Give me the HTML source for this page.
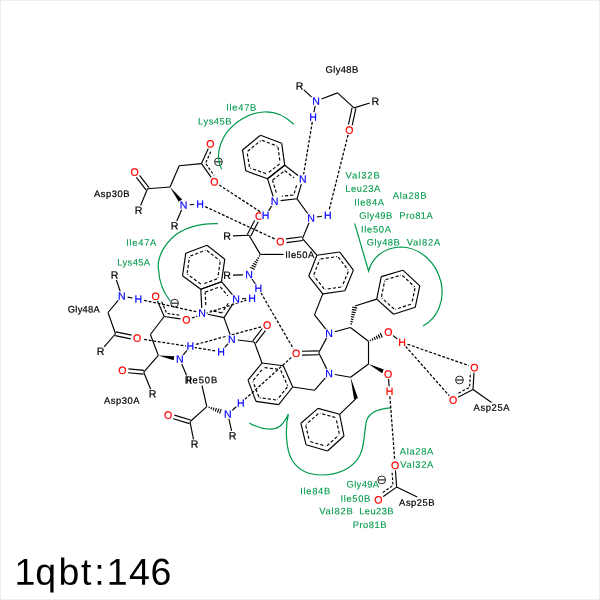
<!DOCTYPE html>
<html><head><meta charset="utf-8"><style>
html,body{margin:0;padding:0;background:#fff;}
.wrap{width:600px;height:600px;box-sizing:border-box;border:1px solid #eeeeee;position:relative;overflow:hidden;background:#fff;}
svg{position:absolute;left:0;top:0;will-change:transform;}
text{font-family:"Liberation Sans", sans-serif;}
</style></head><body><div class="wrap">
<svg width="600" height="600" viewBox="0 0 600 600" style="left:-1px;top:-1px">
<circle cx="218.4" cy="161.8" r="3.9" fill="none" stroke="#222" stroke-width="1.0"/>
<line x1="215.1" y1="161.8" x2="221.70000000000002" y2="161.8" stroke="#222" stroke-width="1.2"/>
<circle cx="174.6" cy="303.2" r="3.9" fill="none" stroke="#222" stroke-width="1.0"/>
<line x1="171.29999999999998" y1="303.2" x2="177.9" y2="303.2" stroke="#222" stroke-width="1.2"/>
<circle cx="459.5" cy="380" r="3.9" fill="none" stroke="#222" stroke-width="1.0"/>
<line x1="456.2" y1="380" x2="462.8" y2="380" stroke="#222" stroke-width="1.2"/>
<circle cx="381.7" cy="479.9" r="3.9" fill="none" stroke="#222" stroke-width="1.0"/>
<line x1="378.4" y1="479.9" x2="385.0" y2="479.9" stroke="#222" stroke-width="1.2"/>
<path d="M293.9,124.3 C283,114 272,111.5 264.2,112 C245,113 228,127 222,140.8 C218,150 217,160 221.6,169.3" fill="none" stroke="#00994c" stroke-width="1.2"/>
<path d="M218,223.6 C200,223 182,228 172,238 C160,250 157,262 158.6,270 C159,282 163,292 170.5,301.5" fill="none" stroke="#00994c" stroke-width="1.2"/>
<path d="M354.6,223.4 L368.6,271 C372,258 383,248 400,247 C420,247 436,262 441,282 C445,300 438,318 423,326" fill="none" stroke="#00994c" stroke-width="1.2"/>
<path d="M249.3,423 C257,427.5 266,430.2 275,428.6 C281,427.2 286,420 288.4,414 C285.5,425 285,448 292,460 C298,470 308,475 322,475 C340,475 354,467 360,455 C365,445 364,431 366.5,421 C369,411 381,408.6 390.7,407.8" fill="none" stroke="#00994c" stroke-width="1.2"/>
<line x1="303.55" y1="89.69" x2="311.95" y2="97.31" stroke="#000000" stroke-width="1.15"/>
<line x1="315.10" y1="105.94" x2="314.00" y2="112.06" stroke="#000000" stroke-width="1.15"/>
<line x1="321.47" y1="98.94" x2="337.50" y2="92.90" stroke="#000000" stroke-width="1.15"/>
<line x1="337.50" y1="92.90" x2="354.00" y2="107.90" stroke="#000000" stroke-width="1.15"/>
<line x1="354.00" y1="107.90" x2="369.77" y2="103.04" stroke="#000000" stroke-width="1.15"/>
<line x1="352.14" y1="107.50" x2="348.49" y2="124.68" stroke="#000000" stroke-width="1.15"/>
<line x1="355.86" y1="108.30" x2="352.21" y2="125.47" stroke="#000000" stroke-width="1.15"/>
<line x1="250.68" y1="236.18" x2="258.28" y2="221.66" stroke="#000000" stroke-width="1.15"/>
<line x1="247.32" y1="234.42" x2="254.92" y2="219.90" stroke="#000000" stroke-width="1.15"/>
<line x1="233.00" y1="235.81" x2="249.00" y2="235.30" stroke="#000000" stroke-width="1.15"/>
<line x1="249.00" y1="235.30" x2="260.30" y2="254.40" stroke="#000000" stroke-width="1.15"/>
<line x1="260.30" y1="254.40" x2="283.50" y2="254.40" stroke="#000000" stroke-width="1.15"/>
<line x1="250.35" y1="267.22" x2="254.64" y2="269.61" stroke="#000000" stroke-width="1.15"/>
<line x1="251.77" y1="265.27" x2="255.56" y2="267.37" stroke="#000000" stroke-width="1.15"/>
<line x1="253.20" y1="263.31" x2="256.47" y2="265.13" stroke="#000000" stroke-width="1.15"/>
<line x1="254.62" y1="261.36" x2="257.38" y2="262.89" stroke="#000000" stroke-width="1.15"/>
<line x1="256.04" y1="259.40" x2="258.29" y2="260.65" stroke="#000000" stroke-width="1.15"/>
<line x1="257.47" y1="257.45" x2="259.20" y2="258.41" stroke="#000000" stroke-width="1.15"/>
<line x1="258.89" y1="255.49" x2="260.11" y2="256.18" stroke="#000000" stroke-width="1.15"/>
<line x1="233.00" y1="275.14" x2="243.00" y2="274.86" stroke="#000000" stroke-width="1.15"/>
<line x1="251.97" y1="279.04" x2="255.33" y2="283.96" stroke="#000000" stroke-width="1.15"/>
<line x1="149.00" y1="187.54" x2="139.35" y2="175.04" stroke="#000000" stroke-width="1.15"/>
<line x1="146.00" y1="189.86" x2="136.34" y2="177.37" stroke="#000000" stroke-width="1.15"/>
<line x1="147.50" y1="188.70" x2="140.63" y2="205.57" stroke="#000000" stroke-width="1.15"/>
<line x1="147.50" y1="188.70" x2="170.00" y2="187.00" stroke="#000000" stroke-width="1.15"/>
<line x1="170.00" y1="187.00" x2="179.20" y2="165.80" stroke="#000000" stroke-width="1.15"/>
<line x1="179.20" y1="165.80" x2="201.50" y2="163.60" stroke="#000000" stroke-width="1.15"/>
<line x1="201.50" y1="163.60" x2="208.29" y2="148.58" stroke="#000000" stroke-width="1.15"/>
<line x1="205.84" y1="162.49" x2="211.35" y2="150.29" stroke="#000000" stroke-width="1.15" stroke-dasharray="2.8,1.7"/>
<line x1="201.50" y1="163.60" x2="211.36" y2="177.59" stroke="#000000" stroke-width="1.15"/>
<line x1="205.97" y1="163.87" x2="214.05" y2="175.33" stroke="#000000" stroke-width="1.15" stroke-dasharray="2.8,1.7"/>
<polygon points="170.00,187.00 178.86,202.02 182.12,199.54" fill="#000000"/>
<line x1="189.69" y1="204.71" x2="194.01" y2="204.49" stroke="#000000" stroke-width="1.15"/>
<line x1="181.66" y1="209.70" x2="176.74" y2="221.10" stroke="#000000" stroke-width="1.15"/>
<line x1="116.32" y1="279.81" x2="120.18" y2="291.29" stroke="#000000" stroke-width="1.15"/>
<line x1="127.67" y1="297.13" x2="132.43" y2="297.97" stroke="#000000" stroke-width="1.15"/>
<line x1="118.36" y1="300.19" x2="108.00" y2="312.50" stroke="#000000" stroke-width="1.15"/>
<line x1="108.00" y1="312.50" x2="115.50" y2="333.75" stroke="#000000" stroke-width="1.15"/>
<line x1="115.11" y1="335.61" x2="130.79" y2="338.86" stroke="#000000" stroke-width="1.15"/>
<line x1="115.89" y1="331.89" x2="131.56" y2="335.13" stroke="#000000" stroke-width="1.15"/>
<line x1="115.50" y1="333.75" x2="103.99" y2="347.18" stroke="#000000" stroke-width="1.15"/>
<line x1="164.20" y1="316.50" x2="157.53" y2="301.01" stroke="#000000" stroke-width="1.15"/>
<line x1="166.31" y1="312.54" x2="160.86" y2="299.90" stroke="#000000" stroke-width="1.15" stroke-dasharray="2.8,1.7"/>
<line x1="164.20" y1="316.50" x2="180.39" y2="318.92" stroke="#000000" stroke-width="1.15"/>
<line x1="167.49" y1="313.45" x2="180.61" y2="315.41" stroke="#000000" stroke-width="1.15" stroke-dasharray="2.8,1.7"/>
<line x1="164.20" y1="316.50" x2="150.40" y2="334.50" stroke="#000000" stroke-width="1.15"/>
<line x1="150.40" y1="334.50" x2="158.30" y2="355.40" stroke="#000000" stroke-width="1.15"/>
<polygon points="158.30,355.40 173.57,360.18 174.29,356.14" fill="#000000"/>
<line x1="183.14" y1="355.04" x2="187.06" y2="350.16" stroke="#000000" stroke-width="1.15"/>
<line x1="158.30" y1="355.40" x2="143.75" y2="372.20" stroke="#000000" stroke-width="1.15"/>
<line x1="143.92" y1="370.31" x2="128.43" y2="368.94" stroke="#000000" stroke-width="1.15"/>
<line x1="143.58" y1="374.09" x2="128.10" y2="372.72" stroke="#000000" stroke-width="1.15"/>
<line x1="143.75" y1="372.20" x2="150.67" y2="389.17" stroke="#000000" stroke-width="1.15"/>
<line x1="181.78" y1="363.92" x2="186.62" y2="375.48" stroke="#000000" stroke-width="1.15"/>
<line x1="202.00" y1="385.50" x2="206.80" y2="406.60" stroke="#000000" stroke-width="1.15"/>
<line x1="219.58" y1="413.68" x2="221.20" y2="409.09" stroke="#000000" stroke-width="1.15"/>
<line x1="217.42" y1="412.58" x2="218.83" y2="408.60" stroke="#000000" stroke-width="1.15"/>
<line x1="215.27" y1="411.48" x2="216.45" y2="408.11" stroke="#000000" stroke-width="1.15"/>
<line x1="213.11" y1="410.38" x2="214.08" y2="407.61" stroke="#000000" stroke-width="1.15"/>
<line x1="210.95" y1="409.28" x2="211.71" y2="407.12" stroke="#000000" stroke-width="1.15"/>
<line x1="208.80" y1="408.18" x2="209.34" y2="406.62" stroke="#000000" stroke-width="1.15"/>
<line x1="232.01" y1="410.44" x2="236.59" y2="406.56" stroke="#000000" stroke-width="1.15"/>
<line x1="228.90" y1="418.92" x2="231.60" y2="430.98" stroke="#000000" stroke-width="1.15"/>
<line x1="206.80" y1="406.60" x2="190.00" y2="421.80" stroke="#000000" stroke-width="1.15"/>
<line x1="190.55" y1="419.98" x2="174.39" y2="415.09" stroke="#000000" stroke-width="1.15"/>
<line x1="189.45" y1="423.62" x2="173.29" y2="418.73" stroke="#000000" stroke-width="1.15"/>
<line x1="190.00" y1="421.80" x2="193.51" y2="439.27" stroke="#000000" stroke-width="1.15"/>
<line x1="473.00" y1="389.50" x2="473.97" y2="372.49" stroke="#000000" stroke-width="1.15"/>
<line x1="469.66" y1="386.51" x2="470.45" y2="372.60" stroke="#000000" stroke-width="1.15" stroke-dasharray="2.8,1.7"/>
<line x1="473.00" y1="389.50" x2="458.08" y2="397.33" stroke="#000000" stroke-width="1.15"/>
<line x1="468.89" y1="387.70" x2="456.72" y2="394.10" stroke="#000000" stroke-width="1.15" stroke-dasharray="2.8,1.7"/>
<line x1="473.00" y1="389.50" x2="491.50" y2="402.50" stroke="#000000" stroke-width="1.15"/>
<line x1="396.60" y1="487.10" x2="395.44" y2="470.29" stroke="#000000" stroke-width="1.15"/>
<line x1="392.92" y1="484.55" x2="391.97" y2="470.83" stroke="#000000" stroke-width="1.15" stroke-dasharray="2.8,1.7"/>
<line x1="396.60" y1="487.10" x2="382.99" y2="496.68" stroke="#000000" stroke-width="1.15"/>
<line x1="392.30" y1="485.85" x2="381.22" y2="493.64" stroke="#000000" stroke-width="1.15" stroke-dasharray="2.8,1.7"/>
<line x1="396.60" y1="487.10" x2="417.25" y2="497.00" stroke="#000000" stroke-width="1.15"/>
<line x1="312.28" y1="121.95" x2="303.62" y2="174.25" stroke="#000000" stroke-width="1.25" stroke-dasharray="2.9,1.7"/>
<line x1="348.07" y1="134.89" x2="329.03" y2="210.41" stroke="#000000" stroke-width="1.25" stroke-dasharray="2.9,1.7"/>
<line x1="219.13" y1="184.98" x2="260.97" y2="212.22" stroke="#000000" stroke-width="1.25" stroke-dasharray="2.9,1.7"/>
<line x1="205.24" y1="206.64" x2="275.16" y2="239.16" stroke="#000000" stroke-width="1.25" stroke-dasharray="2.9,1.7"/>
<line x1="260.91" y1="292.80" x2="293.39" y2="348.80" stroke="#000000" stroke-width="1.25" stroke-dasharray="2.9,1.7"/>
<line x1="144.10" y1="300.28" x2="196.20" y2="311.72" stroke="#000000" stroke-width="1.25" stroke-dasharray="2.9,1.7"/>
<line x1="191.88" y1="317.97" x2="246.42" y2="300.13" stroke="#000000" stroke-width="1.25" stroke-dasharray="2.9,1.7"/>
<line x1="196.11" y1="344.45" x2="261.49" y2="326.75" stroke="#000000" stroke-width="1.25" stroke-dasharray="2.9,1.7"/>
<line x1="215.11" y1="350.80" x2="142.89" y2="339.15" stroke="#000000" stroke-width="1.25" stroke-dasharray="2.9,1.7"/>
<line x1="244.88" y1="399.33" x2="291.92" y2="356.97" stroke="#000000" stroke-width="1.25" stroke-dasharray="2.9,1.7"/>
<line x1="407.53" y1="344.23" x2="468.72" y2="365.57" stroke="#000000" stroke-width="1.25" stroke-dasharray="2.9,1.7"/>
<line x1="405.56" y1="346.33" x2="449.44" y2="395.97" stroke="#000000" stroke-width="1.25" stroke-dasharray="2.9,1.7"/>
<line x1="389.88" y1="396.29" x2="394.72" y2="460.31" stroke="#000000" stroke-width="1.25" stroke-dasharray="2.9,1.7"/>
<rect x="295.10" y="81.80" width="8.8" height="8.4" fill="#fff"/>
<text transform="translate(299.50,89.65) rotate(0.05)" font-size="10.6" fill="#000000" stroke="#000000" stroke-width="0.2" text-anchor="middle">R</text>
<rect x="311.40" y="96.80" width="9.2" height="8.4" fill="#fff"/>
<text transform="translate(316.00,104.65) rotate(0.05)" font-size="10.6" fill="#0000ff" stroke="#0000ff" stroke-width="0.2" text-anchor="middle">N</text>
<rect x="308.70" y="112.80" width="8.8" height="8.4" fill="#fff"/>
<text transform="translate(313.10,120.65) rotate(0.05)" font-size="10.6" fill="#0000ff" stroke="#0000ff" stroke-width="0.2" text-anchor="middle">H</text>
<rect x="371.00" y="97.10" width="8.8" height="8.4" fill="#fff"/>
<text transform="translate(375.40,104.95) rotate(0.05)" font-size="10.6" fill="#000000" stroke="#000000" stroke-width="0.2" text-anchor="middle">R</text>
<rect x="344.50" y="125.80" width="9.6" height="8.4" fill="#fff"/>
<text transform="translate(349.30,133.65) rotate(0.05)" font-size="10.6" fill="#ff0000" stroke="#ff0000" stroke-width="0.2" text-anchor="middle">O</text>
<rect x="254.20" y="212.00" width="9.6" height="8.4" fill="#fff"/>
<text transform="translate(259.00,219.85) rotate(0.05)" font-size="10.6" fill="#ff0000" stroke="#ff0000" stroke-width="0.2" text-anchor="middle">O</text>
<rect x="222.60" y="231.80" width="8.8" height="8.4" fill="#fff"/>
<text transform="translate(227.00,239.65) rotate(0.05)" font-size="10.6" fill="#000000" stroke="#000000" stroke-width="0.2" text-anchor="middle">R</text>
<rect x="244.40" y="270.50" width="9.2" height="8.4" fill="#fff"/>
<text transform="translate(249.00,278.35) rotate(0.05)" font-size="10.6" fill="#0000ff" stroke="#0000ff" stroke-width="0.2" text-anchor="middle">N</text>
<rect x="222.60" y="271.10" width="8.8" height="8.4" fill="#fff"/>
<text transform="translate(227.00,278.95) rotate(0.05)" font-size="10.6" fill="#000000" stroke="#000000" stroke-width="0.2" text-anchor="middle">R</text>
<rect x="253.90" y="284.10" width="8.8" height="8.4" fill="#fff"/>
<text transform="translate(258.30,291.95) rotate(0.05)" font-size="10.6" fill="#0000ff" stroke="#0000ff" stroke-width="0.2" text-anchor="middle">H</text>
<rect x="129.80" y="167.80" width="9.6" height="8.4" fill="#fff"/>
<text transform="translate(134.60,175.65) rotate(0.05)" font-size="10.6" fill="#ff0000" stroke="#ff0000" stroke-width="0.2" text-anchor="middle">O</text>
<rect x="134.30" y="206.10" width="8.8" height="8.4" fill="#fff"/>
<text transform="translate(138.70,213.95) rotate(0.05)" font-size="10.6" fill="#000000" stroke="#000000" stroke-width="0.2" text-anchor="middle">R</text>
<rect x="205.60" y="139.70" width="9.6" height="8.4" fill="#fff"/>
<text transform="translate(210.40,147.55) rotate(0.05)" font-size="10.6" fill="#ff0000" stroke="#ff0000" stroke-width="0.2" text-anchor="middle">O</text>
<rect x="209.60" y="177.70" width="9.6" height="8.4" fill="#fff"/>
<text transform="translate(214.40,185.55) rotate(0.05)" font-size="10.6" fill="#ff0000" stroke="#ff0000" stroke-width="0.2" text-anchor="middle">O</text>
<rect x="179.10" y="200.80" width="9.2" height="8.4" fill="#fff"/>
<text transform="translate(183.70,208.65) rotate(0.05)" font-size="10.6" fill="#0000ff" stroke="#0000ff" stroke-width="0.2" text-anchor="middle">N</text>
<rect x="195.60" y="200.00" width="8.8" height="8.4" fill="#fff"/>
<text transform="translate(200.00,207.85) rotate(0.05)" font-size="10.6" fill="#0000ff" stroke="#0000ff" stroke-width="0.2" text-anchor="middle">H</text>
<rect x="170.30" y="221.60" width="8.8" height="8.4" fill="#fff"/>
<text transform="translate(174.70,229.45) rotate(0.05)" font-size="10.6" fill="#000000" stroke="#000000" stroke-width="0.2" text-anchor="middle">R</text>
<rect x="110.30" y="270.80" width="8.8" height="8.4" fill="#fff"/>
<text transform="translate(114.70,278.65) rotate(0.05)" font-size="10.6" fill="#000000" stroke="#000000" stroke-width="0.2" text-anchor="middle">R</text>
<rect x="117.20" y="291.90" width="9.2" height="8.4" fill="#fff"/>
<text transform="translate(121.80,299.75) rotate(0.05)" font-size="10.6" fill="#0000ff" stroke="#0000ff" stroke-width="0.2" text-anchor="middle">N</text>
<rect x="133.90" y="294.80" width="8.8" height="8.4" fill="#fff"/>
<text transform="translate(138.30,302.65) rotate(0.05)" font-size="10.6" fill="#0000ff" stroke="#0000ff" stroke-width="0.2" text-anchor="middle">H</text>
<rect x="132.20" y="334.00" width="9.6" height="8.4" fill="#fff"/>
<text transform="translate(137.00,341.85) rotate(0.05)" font-size="10.6" fill="#ff0000" stroke="#ff0000" stroke-width="0.2" text-anchor="middle">O</text>
<rect x="96.10" y="347.05" width="8.8" height="8.4" fill="#fff"/>
<text transform="translate(100.50,354.90) rotate(0.05)" font-size="10.6" fill="#000000" stroke="#000000" stroke-width="0.2" text-anchor="middle">R</text>
<rect x="150.70" y="292.10" width="9.6" height="8.4" fill="#fff"/>
<text transform="translate(155.50,299.95) rotate(0.05)" font-size="10.6" fill="#ff0000" stroke="#ff0000" stroke-width="0.2" text-anchor="middle">O</text>
<rect x="181.50" y="315.60" width="9.6" height="8.4" fill="#fff"/>
<text transform="translate(186.30,323.45) rotate(0.05)" font-size="10.6" fill="#ff0000" stroke="#ff0000" stroke-width="0.2" text-anchor="middle">O</text>
<rect x="175.20" y="355.00" width="9.2" height="8.4" fill="#fff"/>
<text transform="translate(179.80,362.85) rotate(0.05)" font-size="10.6" fill="#0000ff" stroke="#0000ff" stroke-width="0.2" text-anchor="middle">N</text>
<rect x="186.00" y="341.80" width="8.8" height="8.4" fill="#fff"/>
<text transform="translate(190.40,349.65) rotate(0.05)" font-size="10.6" fill="#0000ff" stroke="#0000ff" stroke-width="0.2" text-anchor="middle">H</text>
<rect x="117.50" y="366.10" width="9.6" height="8.4" fill="#fff"/>
<text transform="translate(122.30,373.95) rotate(0.05)" font-size="10.6" fill="#ff0000" stroke="#ff0000" stroke-width="0.2" text-anchor="middle">O</text>
<rect x="148.20" y="389.70" width="8.8" height="8.4" fill="#fff"/>
<text transform="translate(152.60,397.55) rotate(0.05)" font-size="10.6" fill="#000000" stroke="#000000" stroke-width="0.2" text-anchor="middle">R</text>
<rect x="184.20" y="376.00" width="8.8" height="8.4" fill="#fff"/>
<text transform="translate(188.60,383.85) rotate(0.05)" font-size="10.6" fill="#000000" stroke="#000000" stroke-width="0.2" text-anchor="middle">R</text>
<rect x="223.20" y="409.80" width="9.2" height="8.4" fill="#fff"/>
<text transform="translate(227.80,417.65) rotate(0.05)" font-size="10.6" fill="#0000ff" stroke="#0000ff" stroke-width="0.2" text-anchor="middle">N</text>
<rect x="236.40" y="398.80" width="8.8" height="8.4" fill="#fff"/>
<text transform="translate(240.80,406.65) rotate(0.05)" font-size="10.6" fill="#0000ff" stroke="#0000ff" stroke-width="0.2" text-anchor="middle">H</text>
<rect x="228.30" y="431.70" width="8.8" height="8.4" fill="#fff"/>
<text transform="translate(232.70,439.55) rotate(0.05)" font-size="10.6" fill="#000000" stroke="#000000" stroke-width="0.2" text-anchor="middle">R</text>
<rect x="163.40" y="411.00" width="9.6" height="8.4" fill="#fff"/>
<text transform="translate(168.20,418.85) rotate(0.05)" font-size="10.6" fill="#ff0000" stroke="#ff0000" stroke-width="0.2" text-anchor="middle">O</text>
<rect x="190.10" y="440.00" width="8.8" height="8.4" fill="#fff"/>
<text transform="translate(194.50,447.85) rotate(0.05)" font-size="10.6" fill="#000000" stroke="#000000" stroke-width="0.2" text-anchor="middle">R</text>
<rect x="469.45" y="363.30" width="9.6" height="8.4" fill="#fff"/>
<text transform="translate(474.25,371.15) rotate(0.05)" font-size="10.6" fill="#ff0000" stroke="#ff0000" stroke-width="0.2" text-anchor="middle">O</text>
<rect x="448.20" y="395.80" width="9.6" height="8.4" fill="#fff"/>
<text transform="translate(453.00,403.65) rotate(0.05)" font-size="10.6" fill="#ff0000" stroke="#ff0000" stroke-width="0.2" text-anchor="middle">O</text>
<rect x="390.30" y="461.10" width="9.6" height="8.4" fill="#fff"/>
<text transform="translate(395.10,468.95) rotate(0.05)" font-size="10.6" fill="#ff0000" stroke="#ff0000" stroke-width="0.2" text-anchor="middle">O</text>
<rect x="373.60" y="495.70" width="9.6" height="8.4" fill="#fff"/>
<text transform="translate(378.40,503.55) rotate(0.05)" font-size="10.6" fill="#ff0000" stroke="#ff0000" stroke-width="0.2" text-anchor="middle">O</text>
<line x1="260.50" y1="135.30" x2="281.70" y2="143.30" stroke="#000000" stroke-width="1.15"/>
<line x1="262.01" y1="140.36" x2="277.22" y2="146.10" stroke="#000000" stroke-width="1.15" stroke-dasharray="3.2,2.0"/>
<line x1="281.70" y1="143.30" x2="284.70" y2="165.30" stroke="#000000" stroke-width="1.15"/>
<line x1="277.97" y1="147.04" x2="280.11" y2="162.70" stroke="#000000" stroke-width="1.15" stroke-dasharray="3.2,2.0"/>
<line x1="284.70" y1="165.30" x2="267.50" y2="178.70" stroke="#000000" stroke-width="1.15"/>
<line x1="279.59" y1="163.95" x2="267.44" y2="173.42" stroke="#000000" stroke-width="1.15" stroke-dasharray="3.2,2.0"/>
<line x1="267.50" y1="178.70" x2="245.80" y2="170.80" stroke="#000000" stroke-width="1.15"/>
<line x1="265.93" y1="173.66" x2="250.24" y2="167.95" stroke="#000000" stroke-width="1.15" stroke-dasharray="3.2,2.0"/>
<line x1="245.80" y1="170.80" x2="242.50" y2="150.00" stroke="#000000" stroke-width="1.15"/>
<line x1="249.45" y1="166.98" x2="247.15" y2="152.50" stroke="#000000" stroke-width="1.15" stroke-dasharray="3.2,2.0"/>
<line x1="242.50" y1="150.00" x2="260.50" y2="135.30" stroke="#000000" stroke-width="1.15"/>
<line x1="247.64" y1="151.23" x2="260.68" y2="140.58" stroke="#000000" stroke-width="1.15" stroke-dasharray="3.2,2.0"/>
<line x1="284.70" y1="165.30" x2="298.39" y2="175.81" stroke="#000000" stroke-width="1.15"/>
<line x1="284.68" y1="170.58" x2="294.13" y2="177.84" stroke="#000000" stroke-width="1.15" stroke-dasharray="3.2,2.0"/>
<line x1="301.36" y1="184.05" x2="297.00" y2="198.80" stroke="#000000" stroke-width="1.15"/>
<line x1="296.59" y1="185.39" x2="293.88" y2="194.54" stroke="#000000" stroke-width="1.15" stroke-dasharray="3.2,2.0"/>
<line x1="297.00" y1="198.80" x2="280.65" y2="200.63" stroke="#000000" stroke-width="1.15"/>
<line x1="293.35" y1="194.98" x2="281.88" y2="196.27" stroke="#000000" stroke-width="1.15" stroke-dasharray="3.2,2.0"/>
<line x1="273.16" y1="196.47" x2="267.50" y2="178.70" stroke="#000000" stroke-width="1.15"/>
<line x1="276.36" y1="192.69" x2="272.47" y2="180.47" stroke="#000000" stroke-width="1.15" stroke-dasharray="3.2,2.0"/>
<line x1="267.50" y1="178.70" x2="284.70" y2="165.30" stroke="#000000" stroke-width="1.15"/>
<line x1="272.61" y1="180.05" x2="284.76" y2="170.58" stroke="#000000" stroke-width="1.15" stroke-dasharray="3.2,2.0"/>
<line x1="271.87" y1="205.71" x2="268.53" y2="210.89" stroke="#000000" stroke-width="1.15"/>
<line x1="297.00" y1="198.80" x2="307.88" y2="213.73" stroke="#000000" stroke-width="1.15"/>
<line x1="316.89" y1="217.05" x2="321.91" y2="216.25" stroke="#000000" stroke-width="1.15"/>
<line x1="309.05" y1="222.73" x2="302.50" y2="238.60" stroke="#000000" stroke-width="1.15"/>
<line x1="302.24" y1="236.72" x2="286.07" y2="238.91" stroke="#000000" stroke-width="1.15"/>
<line x1="302.76" y1="240.48" x2="286.58" y2="242.68" stroke="#000000" stroke-width="1.15"/>
<line x1="302.50" y1="238.60" x2="316.90" y2="255.20" stroke="#000000" stroke-width="1.15"/>
<line x1="316.90" y1="255.20" x2="339.70" y2="252.00" stroke="#000000" stroke-width="1.15"/>
<line x1="320.65" y1="258.91" x2="337.11" y2="256.60" stroke="#000000" stroke-width="1.15" stroke-dasharray="3.2,2.0"/>
<line x1="339.70" y1="252.00" x2="353.40" y2="270.10" stroke="#000000" stroke-width="1.15"/>
<line x1="338.28" y1="257.09" x2="348.12" y2="270.08" stroke="#000000" stroke-width="1.15" stroke-dasharray="3.2,2.0"/>
<line x1="353.40" y1="270.10" x2="344.90" y2="290.75" stroke="#000000" stroke-width="1.15"/>
<line x1="348.30" y1="271.46" x2="342.23" y2="286.19" stroke="#000000" stroke-width="1.15" stroke-dasharray="3.2,2.0"/>
<line x1="344.90" y1="290.75" x2="322.75" y2="293.90" stroke="#000000" stroke-width="1.15"/>
<line x1="341.14" y1="287.04" x2="325.33" y2="289.29" stroke="#000000" stroke-width="1.15" stroke-dasharray="3.2,2.0"/>
<line x1="322.75" y1="293.90" x2="308.75" y2="276.20" stroke="#000000" stroke-width="1.15"/>
<line x1="324.06" y1="288.78" x2="314.03" y2="276.10" stroke="#000000" stroke-width="1.15" stroke-dasharray="3.2,2.0"/>
<line x1="308.75" y1="276.20" x2="316.90" y2="255.20" stroke="#000000" stroke-width="1.15"/>
<line x1="313.82" y1="274.74" x2="319.66" y2="259.70" stroke="#000000" stroke-width="1.15" stroke-dasharray="3.2,2.0"/>
<line x1="322.75" y1="293.90" x2="314.50" y2="314.90" stroke="#000000" stroke-width="1.15"/>
<line x1="314.50" y1="314.90" x2="325.79" y2="329.13" stroke="#000000" stroke-width="1.15"/>
<line x1="334.80" y1="331.75" x2="350.40" y2="327.50" stroke="#000000" stroke-width="1.15"/>
<line x1="350.40" y1="327.50" x2="368.50" y2="341.30" stroke="#000000" stroke-width="1.15"/>
<line x1="368.50" y1="341.30" x2="368.50" y2="364.00" stroke="#000000" stroke-width="1.15"/>
<line x1="368.50" y1="364.00" x2="350.60" y2="377.30" stroke="#000000" stroke-width="1.15"/>
<line x1="350.60" y1="377.30" x2="334.87" y2="374.53" stroke="#000000" stroke-width="1.15"/>
<line x1="326.70" y1="368.88" x2="318.70" y2="352.80" stroke="#000000" stroke-width="1.15"/>
<line x1="318.70" y1="352.80" x2="326.66" y2="337.87" stroke="#000000" stroke-width="1.15"/>
<line x1="318.66" y1="350.90" x2="301.96" y2="351.27" stroke="#000000" stroke-width="1.15"/>
<line x1="318.74" y1="354.70" x2="302.04" y2="355.07" stroke="#000000" stroke-width="1.15"/>
<line x1="357.15" y1="308.10" x2="352.18" y2="307.03" stroke="#000000" stroke-width="1.15"/>
<line x1="356.41" y1="310.39" x2="351.91" y2="309.43" stroke="#000000" stroke-width="1.15"/>
<line x1="355.68" y1="312.69" x2="351.65" y2="311.83" stroke="#000000" stroke-width="1.15"/>
<line x1="354.94" y1="314.99" x2="351.38" y2="314.22" stroke="#000000" stroke-width="1.15"/>
<line x1="354.20" y1="317.28" x2="351.11" y2="316.62" stroke="#000000" stroke-width="1.15"/>
<line x1="353.46" y1="319.58" x2="350.85" y2="319.02" stroke="#000000" stroke-width="1.15"/>
<line x1="352.73" y1="321.88" x2="350.58" y2="321.42" stroke="#000000" stroke-width="1.15"/>
<line x1="351.99" y1="324.17" x2="350.31" y2="323.81" stroke="#000000" stroke-width="1.15"/>
<line x1="355.00" y1="306.00" x2="376.70" y2="299.10" stroke="#000000" stroke-width="1.15"/>
<line x1="376.70" y1="299.10" x2="381.30" y2="276.60" stroke="#000000" stroke-width="1.15"/>
<line x1="381.46" y1="296.81" x2="384.77" y2="280.58" stroke="#000000" stroke-width="1.15" stroke-dasharray="3.2,2.0"/>
<line x1="381.30" y1="276.60" x2="402.90" y2="270.20" stroke="#000000" stroke-width="1.15"/>
<line x1="385.56" y1="279.72" x2="401.03" y2="275.14" stroke="#000000" stroke-width="1.15" stroke-dasharray="3.2,2.0"/>
<line x1="402.90" y1="270.20" x2="419.80" y2="285.90" stroke="#000000" stroke-width="1.15"/>
<line x1="402.39" y1="275.46" x2="414.60" y2="286.80" stroke="#000000" stroke-width="1.15" stroke-dasharray="3.2,2.0"/>
<line x1="419.80" y1="285.90" x2="415.20" y2="307.30" stroke="#000000" stroke-width="1.15"/>
<line x1="415.02" y1="288.15" x2="411.77" y2="303.29" stroke="#000000" stroke-width="1.15" stroke-dasharray="3.2,2.0"/>
<line x1="415.20" y1="307.30" x2="393.60" y2="314.30" stroke="#000000" stroke-width="1.15"/>
<line x1="410.86" y1="304.29" x2="395.35" y2="309.32" stroke="#000000" stroke-width="1.15" stroke-dasharray="3.2,2.0"/>
<line x1="393.60" y1="314.30" x2="376.70" y2="299.10" stroke="#000000" stroke-width="1.15"/>
<line x1="394.03" y1="309.04" x2="381.89" y2="298.12" stroke="#000000" stroke-width="1.15" stroke-dasharray="3.2,2.0"/>
<line x1="382.29" y1="337.50" x2="380.23" y2="333.11" stroke="#000000" stroke-width="1.15"/>
<line x1="379.98" y1="338.23" x2="378.20" y2="334.43" stroke="#000000" stroke-width="1.15"/>
<line x1="377.67" y1="338.95" x2="376.17" y2="335.74" stroke="#000000" stroke-width="1.15"/>
<line x1="375.36" y1="339.67" x2="374.13" y2="337.06" stroke="#000000" stroke-width="1.15"/>
<line x1="373.05" y1="340.40" x2="372.10" y2="338.38" stroke="#000000" stroke-width="1.15"/>
<line x1="370.74" y1="341.12" x2="370.07" y2="339.69" stroke="#000000" stroke-width="1.15"/>
<line x1="392.75" y1="335.35" x2="397.55" y2="338.95" stroke="#000000" stroke-width="1.15"/>
<polygon points="368.50,364.00 382.15,373.23 384.00,369.57" fill="#000000"/>
<line x1="388.57" y1="378.99" x2="389.13" y2="386.31" stroke="#000000" stroke-width="1.15"/>
<polygon points="350.60,377.30 354.01,399.20 357.99,398.20" fill="#000000"/>
<line x1="356.00" y1="398.70" x2="339.60" y2="414.30" stroke="#000000" stroke-width="1.15"/>
<line x1="339.60" y1="414.30" x2="318.00" y2="408.40" stroke="#000000" stroke-width="1.15"/>
<line x1="335.41" y1="417.51" x2="319.98" y2="413.29" stroke="#000000" stroke-width="1.15" stroke-dasharray="3.2,2.0"/>
<line x1="318.00" y1="408.40" x2="300.90" y2="423.30" stroke="#000000" stroke-width="1.15"/>
<line x1="318.35" y1="413.67" x2="306.07" y2="424.36" stroke="#000000" stroke-width="1.15" stroke-dasharray="3.2,2.0"/>
<line x1="300.90" y1="423.30" x2="306.00" y2="444.70" stroke="#000000" stroke-width="1.15"/>
<line x1="305.73" y1="425.44" x2="309.34" y2="440.61" stroke="#000000" stroke-width="1.15" stroke-dasharray="3.2,2.0"/>
<line x1="306.00" y1="444.70" x2="327.50" y2="451.00" stroke="#000000" stroke-width="1.15"/>
<line x1="310.25" y1="441.57" x2="325.61" y2="446.07" stroke="#000000" stroke-width="1.15" stroke-dasharray="3.2,2.0"/>
<line x1="327.50" y1="451.00" x2="344.00" y2="436.00" stroke="#000000" stroke-width="1.15"/>
<line x1="327.04" y1="445.74" x2="338.81" y2="435.04" stroke="#000000" stroke-width="1.15" stroke-dasharray="3.2,2.0"/>
<line x1="344.00" y1="436.00" x2="339.60" y2="414.30" stroke="#000000" stroke-width="1.15"/>
<line x1="339.25" y1="433.70" x2="336.12" y2="418.27" stroke="#000000" stroke-width="1.15" stroke-dasharray="3.2,2.0"/>
<line x1="325.51" y1="377.57" x2="314.70" y2="390.20" stroke="#000000" stroke-width="1.15"/>
<line x1="314.70" y1="390.20" x2="292.70" y2="387.00" stroke="#000000" stroke-width="1.15"/>
<line x1="262.00" y1="363.00" x2="283.30" y2="365.70" stroke="#000000" stroke-width="1.15"/>
<line x1="264.65" y1="367.57" x2="279.60" y2="369.46" stroke="#000000" stroke-width="1.15" stroke-dasharray="3.2,2.0"/>
<line x1="283.30" y1="365.70" x2="292.70" y2="387.00" stroke="#000000" stroke-width="1.15"/>
<line x1="280.75" y1="370.32" x2="287.57" y2="385.77" stroke="#000000" stroke-width="1.15" stroke-dasharray="3.2,2.0"/>
<line x1="292.70" y1="387.00" x2="278.70" y2="404.60" stroke="#000000" stroke-width="1.15"/>
<line x1="287.42" y1="386.89" x2="277.41" y2="399.48" stroke="#000000" stroke-width="1.15" stroke-dasharray="3.2,2.0"/>
<line x1="278.70" y1="404.60" x2="256.00" y2="401.40" stroke="#000000" stroke-width="1.15"/>
<line x1="276.12" y1="399.99" x2="259.75" y2="397.69" stroke="#000000" stroke-width="1.15" stroke-dasharray="3.2,2.0"/>
<line x1="256.00" y1="401.40" x2="248.00" y2="380.10" stroke="#000000" stroke-width="1.15"/>
<line x1="258.81" y1="396.93" x2="253.06" y2="381.62" stroke="#000000" stroke-width="1.15" stroke-dasharray="3.2,2.0"/>
<line x1="248.00" y1="380.10" x2="262.00" y2="363.00" stroke="#000000" stroke-width="1.15"/>
<line x1="253.28" y1="380.28" x2="263.22" y2="368.14" stroke="#000000" stroke-width="1.15" stroke-dasharray="3.2,2.0"/>
<line x1="262.00" y1="363.00" x2="254.30" y2="342.00" stroke="#000000" stroke-width="1.15"/>
<line x1="255.81" y1="343.16" x2="265.47" y2="330.57" stroke="#000000" stroke-width="1.15"/>
<line x1="252.79" y1="340.84" x2="262.46" y2="328.25" stroke="#000000" stroke-width="1.15"/>
<line x1="254.30" y1="342.00" x2="237.74" y2="340.01" stroke="#000000" stroke-width="1.15"/>
<line x1="228.28" y1="343.35" x2="224.52" y2="347.70" stroke="#000000" stroke-width="1.15"/>
<line x1="230.08" y1="334.51" x2="224.00" y2="317.60" stroke="#000000" stroke-width="1.15"/>
<line x1="207.00" y1="245.20" x2="224.80" y2="259.20" stroke="#000000" stroke-width="1.15"/>
<line x1="206.92" y1="250.48" x2="219.69" y2="260.52" stroke="#000000" stroke-width="1.15" stroke-dasharray="3.2,2.0"/>
<line x1="224.80" y1="259.20" x2="221.50" y2="281.70" stroke="#000000" stroke-width="1.15"/>
<line x1="220.18" y1="261.76" x2="217.81" y2="277.92" stroke="#000000" stroke-width="1.15" stroke-dasharray="3.2,2.0"/>
<line x1="221.50" y1="281.70" x2="200.80" y2="289.30" stroke="#000000" stroke-width="1.15"/>
<line x1="217.05" y1="278.86" x2="202.36" y2="284.25" stroke="#000000" stroke-width="1.15" stroke-dasharray="3.2,2.0"/>
<line x1="200.80" y1="289.30" x2="182.50" y2="275.80" stroke="#000000" stroke-width="1.15"/>
<line x1="200.72" y1="284.02" x2="187.57" y2="274.32" stroke="#000000" stroke-width="1.15" stroke-dasharray="3.2,2.0"/>
<line x1="182.50" y1="275.80" x2="185.80" y2="253.20" stroke="#000000" stroke-width="1.15"/>
<line x1="187.12" y1="273.24" x2="189.49" y2="256.97" stroke="#000000" stroke-width="1.15" stroke-dasharray="3.2,2.0"/>
<line x1="185.80" y1="253.20" x2="207.00" y2="245.20" stroke="#000000" stroke-width="1.15"/>
<line x1="190.28" y1="256.00" x2="205.49" y2="250.26" stroke="#000000" stroke-width="1.15" stroke-dasharray="3.2,2.0"/>
<line x1="221.50" y1="281.70" x2="232.56" y2="294.90" stroke="#000000" stroke-width="1.15"/>
<line x1="220.34" y1="286.85" x2="227.83" y2="295.80" stroke="#000000" stroke-width="1.15" stroke-dasharray="3.2,2.0"/>
<line x1="233.16" y1="303.40" x2="224.00" y2="317.60" stroke="#000000" stroke-width="1.15"/>
<line x1="228.30" y1="303.19" x2="222.21" y2="312.63" stroke="#000000" stroke-width="1.15" stroke-dasharray="3.2,2.0"/>
<line x1="224.00" y1="317.60" x2="207.82" y2="314.22" stroke="#000000" stroke-width="1.15"/>
<line x1="221.73" y1="312.83" x2="210.40" y2="310.46" stroke="#000000" stroke-width="1.15" stroke-dasharray="3.2,2.0"/>
<line x1="201.75" y1="308.00" x2="200.80" y2="289.30" stroke="#000000" stroke-width="1.15"/>
<line x1="205.81" y1="305.10" x2="205.16" y2="292.28" stroke="#000000" stroke-width="1.15" stroke-dasharray="3.2,2.0"/>
<line x1="200.80" y1="289.30" x2="221.50" y2="281.70" stroke="#000000" stroke-width="1.15"/>
<line x1="205.25" y1="292.14" x2="219.94" y2="286.75" stroke="#000000" stroke-width="1.15" stroke-dasharray="3.2,2.0"/>
<line x1="241.99" y1="298.74" x2="246.01" y2="298.56" stroke="#000000" stroke-width="1.15"/>
<rect x="298.20" y="175.00" width="9.2" height="8.4" fill="#fff"/>
<text transform="translate(302.80,182.85) rotate(0.05)" font-size="10.6" fill="#0000ff" stroke="#0000ff" stroke-width="0.2" text-anchor="middle">N</text>
<rect x="270.10" y="197.10" width="9.2" height="8.4" fill="#fff"/>
<text transform="translate(274.70,204.95) rotate(0.05)" font-size="10.6" fill="#0000ff" stroke="#0000ff" stroke-width="0.2" text-anchor="middle">N</text>
<rect x="261.30" y="211.10" width="8.8" height="8.4" fill="#fff"/>
<text transform="translate(265.70,218.95) rotate(0.05)" font-size="10.6" fill="#0000ff" stroke="#0000ff" stroke-width="0.2" text-anchor="middle">H</text>
<rect x="306.40" y="213.80" width="9.2" height="8.4" fill="#fff"/>
<text transform="translate(311.00,221.65) rotate(0.05)" font-size="10.6" fill="#0000ff" stroke="#0000ff" stroke-width="0.2" text-anchor="middle">N</text>
<rect x="323.40" y="211.10" width="8.8" height="8.4" fill="#fff"/>
<text transform="translate(327.80,218.95) rotate(0.05)" font-size="10.6" fill="#0000ff" stroke="#0000ff" stroke-width="0.2" text-anchor="middle">H</text>
<rect x="275.60" y="237.40" width="9.6" height="8.4" fill="#fff"/>
<text transform="translate(280.40,245.25) rotate(0.05)" font-size="10.6" fill="#ff0000" stroke="#ff0000" stroke-width="0.2" text-anchor="middle">O</text>
<rect x="324.50" y="329.10" width="9.2" height="8.4" fill="#fff"/>
<text transform="translate(329.10,336.95) rotate(0.05)" font-size="10.6" fill="#0000ff" stroke="#0000ff" stroke-width="0.2" text-anchor="middle">N</text>
<rect x="324.40" y="369.30" width="9.2" height="8.4" fill="#fff"/>
<text transform="translate(329.00,377.15) rotate(0.05)" font-size="10.6" fill="#0000ff" stroke="#0000ff" stroke-width="0.2" text-anchor="middle">N</text>
<rect x="291.20" y="349.10" width="9.6" height="8.4" fill="#fff"/>
<text transform="translate(296.00,356.95) rotate(0.05)" font-size="10.6" fill="#ff0000" stroke="#ff0000" stroke-width="0.2" text-anchor="middle">O</text>
<rect x="383.50" y="327.80" width="9.6" height="8.4" fill="#fff"/>
<text transform="translate(388.30,335.65) rotate(0.05)" font-size="10.6" fill="#ff0000" stroke="#ff0000" stroke-width="0.2" text-anchor="middle">O</text>
<rect x="397.60" y="338.10" width="8.8" height="8.4" fill="#fff"/>
<text transform="translate(402.00,345.95) rotate(0.05)" font-size="10.6" fill="#ff0000" stroke="#ff0000" stroke-width="0.2" text-anchor="middle">H</text>
<rect x="383.40" y="369.80" width="9.6" height="8.4" fill="#fff"/>
<text transform="translate(388.20,377.65) rotate(0.05)" font-size="10.6" fill="#ff0000" stroke="#ff0000" stroke-width="0.2" text-anchor="middle">O</text>
<rect x="385.10" y="387.10" width="8.8" height="8.4" fill="#fff"/>
<text transform="translate(389.50,394.95) rotate(0.05)" font-size="10.6" fill="#ff0000" stroke="#ff0000" stroke-width="0.2" text-anchor="middle">H</text>
<rect x="262.40" y="321.00" width="9.6" height="8.4" fill="#fff"/>
<text transform="translate(267.20,328.85) rotate(0.05)" font-size="10.6" fill="#ff0000" stroke="#ff0000" stroke-width="0.2" text-anchor="middle">O</text>
<rect x="227.20" y="335.10" width="9.2" height="8.4" fill="#fff"/>
<text transform="translate(231.80,342.95) rotate(0.05)" font-size="10.6" fill="#0000ff" stroke="#0000ff" stroke-width="0.2" text-anchor="middle">N</text>
<rect x="216.60" y="347.55" width="8.8" height="8.4" fill="#fff"/>
<text transform="translate(221.00,355.40) rotate(0.05)" font-size="10.6" fill="#0000ff" stroke="#0000ff" stroke-width="0.2" text-anchor="middle">H</text>
<rect x="231.40" y="294.80" width="9.2" height="8.4" fill="#fff"/>
<text transform="translate(236.00,302.65) rotate(0.05)" font-size="10.6" fill="#0000ff" stroke="#0000ff" stroke-width="0.2" text-anchor="middle">N</text>
<rect x="247.60" y="294.10" width="8.8" height="8.4" fill="#fff"/>
<text transform="translate(252.00,301.95) rotate(0.05)" font-size="10.6" fill="#0000ff" stroke="#0000ff" stroke-width="0.2" text-anchor="middle">H</text>
<rect x="197.40" y="308.80" width="9.2" height="8.4" fill="#fff"/>
<text transform="translate(202.00,316.65) rotate(0.05)" font-size="10.6" fill="#0000ff" stroke="#0000ff" stroke-width="0.2" text-anchor="middle">N</text>
<text transform="translate(341.88,72.73) rotate(0.05)" font-size="9.4" fill="#000000" stroke="#000000" stroke-width="0.22" text-anchor="middle" textLength="32.6" lengthAdjust="spacing">Gly48B</text>
<text transform="translate(111.75,196.98) rotate(0.05)" font-size="9.4" fill="#000000" stroke="#000000" stroke-width="0.22" text-anchor="middle" textLength="35.6" lengthAdjust="spacing">Asp30B</text>
<text transform="translate(83.75,312.48) rotate(0.05)" font-size="9.4" fill="#000000" stroke="#000000" stroke-width="0.22" text-anchor="middle" textLength="32.1" lengthAdjust="spacing">Gly48A</text>
<text transform="translate(121.75,403.73) rotate(0.05)" font-size="9.4" fill="#000000" stroke="#000000" stroke-width="0.22" text-anchor="middle" textLength="35.6" lengthAdjust="spacing">Asp30A</text>
<text transform="translate(491.50,410.73) rotate(0.05)" font-size="9.4" fill="#000000" stroke="#000000" stroke-width="0.22" text-anchor="middle" textLength="36.1" lengthAdjust="spacing">Asp25A</text>
<text transform="translate(416.80,505.73) rotate(0.05)" font-size="9.4" fill="#000000" stroke="#000000" stroke-width="0.22" text-anchor="middle" textLength="35.4" lengthAdjust="spacing">Asp25B</text>
<text transform="translate(299.75,258.03) rotate(0.05)" font-size="9.4" fill="#000000" stroke="#000000" stroke-width="0.22" text-anchor="middle" textLength="29.1" lengthAdjust="spacing">Ile50A</text>
<text transform="translate(201.62,383.23) rotate(0.05)" font-size="9.4" fill="#000000" stroke="#000000" stroke-width="0.22" text-anchor="middle" textLength="31.4" lengthAdjust="spacing">Ile50B</text>
<text transform="translate(241.30,110.63) rotate(0.05)" font-size="9.4" fill="#00994c" stroke="#00994c" stroke-width="0.12" text-anchor="middle" textLength="30.0" lengthAdjust="spacing">Ile47B</text>
<text transform="translate(214.80,124.43) rotate(0.05)" font-size="9.4" fill="#00994c" stroke="#00994c" stroke-width="0.12" text-anchor="middle" textLength="33.4" lengthAdjust="spacing">Lys45B</text>
<text transform="translate(141.30,245.83) rotate(0.05)" font-size="9.4" fill="#00994c" stroke="#00994c" stroke-width="0.12" text-anchor="middle" textLength="30.0" lengthAdjust="spacing">Ile47A</text>
<text transform="translate(133.70,265.43) rotate(0.05)" font-size="9.4" fill="#00994c" stroke="#00994c" stroke-width="0.12" text-anchor="middle" textLength="32.8" lengthAdjust="spacing">Lys45A</text>
<text transform="translate(362.62,178.43) rotate(0.05)" font-size="9.4" fill="#00994c" stroke="#00994c" stroke-width="0.12" text-anchor="middle" textLength="34.4" lengthAdjust="spacing">Val32B</text>
<text transform="translate(362.75,191.83) rotate(0.05)" font-size="9.4" fill="#00994c" stroke="#00994c" stroke-width="0.12" text-anchor="middle" textLength="35.1" lengthAdjust="spacing">Leu23A</text>
<text transform="translate(409.62,198.83) rotate(0.05)" font-size="9.4" fill="#00994c" stroke="#00994c" stroke-width="0.12" text-anchor="middle" textLength="33.9" lengthAdjust="spacing">Ala28B</text>
<text transform="translate(369.12,205.53) rotate(0.05)" font-size="9.4" fill="#00994c" stroke="#00994c" stroke-width="0.12" text-anchor="middle" textLength="29.9" lengthAdjust="spacing">Ile84A</text>
<text transform="translate(375.75,218.83) rotate(0.05)" font-size="9.4" fill="#00994c" stroke="#00994c" stroke-width="0.12" text-anchor="middle" textLength="33.1" lengthAdjust="spacing">Gly49B</text>
<text transform="translate(416.00,218.83) rotate(0.05)" font-size="9.4" fill="#00994c" stroke="#00994c" stroke-width="0.12" text-anchor="middle" textLength="33.6" lengthAdjust="spacing">Pro81A</text>
<text transform="translate(376.00,232.53) rotate(0.05)" font-size="9.4" fill="#00994c" stroke="#00994c" stroke-width="0.12" text-anchor="middle" textLength="30.1" lengthAdjust="spacing">Ile50A</text>
<text transform="translate(383.25,245.53) rotate(0.05)" font-size="9.4" fill="#00994c" stroke="#00994c" stroke-width="0.12" text-anchor="middle" textLength="33.1" lengthAdjust="spacing">Gly48B</text>
<text transform="translate(423.50,245.53) rotate(0.05)" font-size="9.4" fill="#00994c" stroke="#00994c" stroke-width="0.12" text-anchor="middle" textLength="33.6" lengthAdjust="spacing">Val82A</text>
<text transform="translate(416.50,454.53) rotate(0.05)" font-size="9.4" fill="#00994c" stroke="#00994c" stroke-width="0.12" text-anchor="middle" textLength="33.6" lengthAdjust="spacing">Ala28A</text>
<text transform="translate(416.80,467.83) rotate(0.05)" font-size="9.4" fill="#00994c" stroke="#00994c" stroke-width="0.12" text-anchor="middle" textLength="33.0" lengthAdjust="spacing">Val32A</text>
<text transform="translate(362.75,487.53) rotate(0.05)" font-size="9.4" fill="#00994c" stroke="#00994c" stroke-width="0.12" text-anchor="middle" textLength="32.6" lengthAdjust="spacing">Gly49A</text>
<text transform="translate(315.25,494.23) rotate(0.05)" font-size="9.4" fill="#00994c" stroke="#00994c" stroke-width="0.12" text-anchor="middle" textLength="30.1" lengthAdjust="spacing">Ile84B</text>
<text transform="translate(355.38,501.73) rotate(0.05)" font-size="9.4" fill="#00994c" stroke="#00994c" stroke-width="0.12" text-anchor="middle" textLength="29.9" lengthAdjust="spacing">Ile50B</text>
<text transform="translate(336.00,514.23) rotate(0.05)" font-size="9.4" fill="#00994c" stroke="#00994c" stroke-width="0.12" text-anchor="middle" textLength="33.6" lengthAdjust="spacing">Val82B</text>
<text transform="translate(376.38,514.23) rotate(0.05)" font-size="9.4" fill="#00994c" stroke="#00994c" stroke-width="0.12" text-anchor="middle" textLength="34.4" lengthAdjust="spacing">Leu23B</text>
<text transform="translate(369.62,528.03) rotate(0.05)" font-size="9.4" fill="#00994c" stroke="#00994c" stroke-width="0.12" text-anchor="middle" textLength="33.9" lengthAdjust="spacing">Pro81B</text>
<text transform="translate(25.0,584.7) rotate(0.05)" font-size="37.5" fill="#000" text-anchor="middle">1</text>
<text transform="translate(45.7,584.7) rotate(0.05)" font-size="37.5" fill="#000" text-anchor="middle">q</text>
<text transform="translate(69.0,584.7) rotate(0.05)" font-size="37.5" fill="#000" text-anchor="middle">b</text>
<text transform="translate(86.3,584.7) rotate(0.05)" font-size="37.5" fill="#000" text-anchor="middle">t</text>
<text transform="translate(99.4,584.7) rotate(0.05)" font-size="37.5" fill="#000" text-anchor="middle">:</text>
<text transform="translate(117.2,584.7) rotate(0.05)" font-size="37.5" fill="#000" text-anchor="middle">1</text>
<text transform="translate(139.4,584.7) rotate(0.05)" font-size="37.5" fill="#000" text-anchor="middle">4</text>
<text transform="translate(160.8,584.7) rotate(0.05)" font-size="37.5" fill="#000" text-anchor="middle">6</text>
</svg></div></body></html>
